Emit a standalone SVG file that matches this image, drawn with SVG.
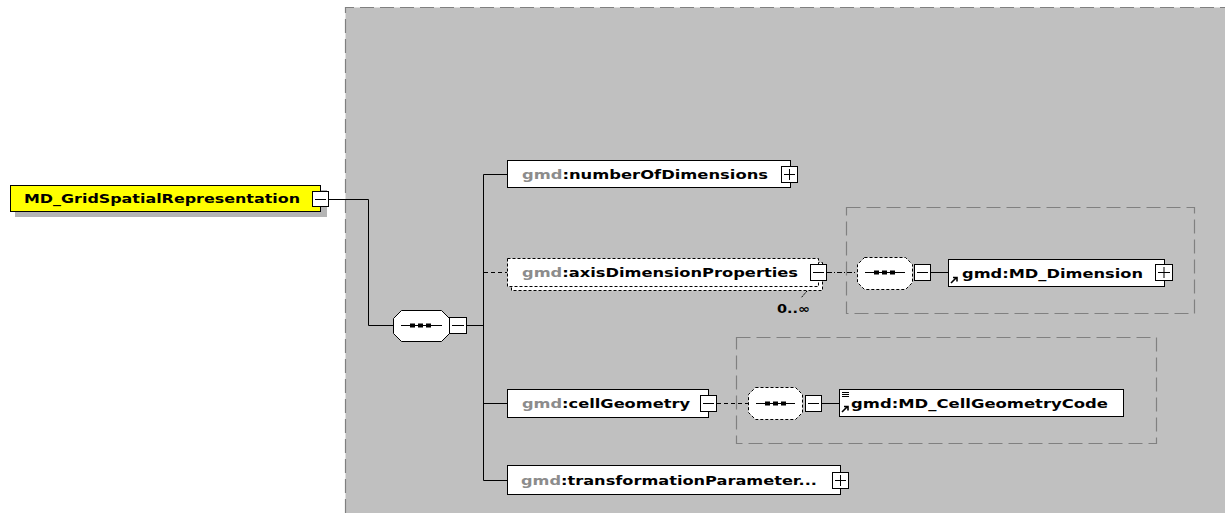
<svg xmlns="http://www.w3.org/2000/svg" width="1225" height="513" viewBox="0 0 1225 513">
<defs>
<style>
.box{fill:#fff;stroke:#000;stroke-width:1}
.dbox{fill:#fff;stroke:#000;stroke-width:1;stroke-dasharray:3,2}
.btn{fill:#fff;stroke:#000;stroke-width:1}
.sg{stroke:#000;stroke-width:1;fill:none}
.c{stroke:#000;stroke-width:1;fill:none}
.cd{stroke:#000;stroke-width:1;fill:none;stroke-dasharray:4,3}
.cdd{stroke:#000;stroke-width:1;fill:none;stroke-dasharray:5,2,1,2}
.area{fill:none;stroke:#808080;stroke-width:1.2;stroke-dasharray:14,6}
.t{font-family:"DejaVu Sans",Verdana,sans-serif;font-weight:bold;font-size:12px;fill:#000}
.p{fill:#8c8c8c}
</style>
</defs>
<rect x="0" y="0" width="1225" height="513" fill="#fff"/>
<g id="area">
<rect x="345.5" y="7.5" width="890" height="520" fill="#c0c0c0" stroke="none"/>
<path d="M345.5,513 V7.5 H1225" class="area"/>
<rect x="846.5" y="207.5" width="348" height="106" class="area"/>
<rect x="736.5" y="337.5" width="420" height="106" class="area"/>
</g>
<g id="connectors">
<path class="c" d="M328,199.5 H368.5 V325.5 H393"/>
<path class="c" d="M467,325.5 H483.5"/>
<path class="c" d="M483.5,174.5 V480.5"/>
<path class="c" d="M483.5,174.5 H507"/>
<path class="cd" d="M484,272.5 H507"/>
<path class="c" d="M483.5,403.5 H507"/>
<path class="c" d="M483.5,480.5 H507"/>
<path class="cdd" d="M827,272.5 H857"/>
<path class="c" d="M931,272.5 H948"/>
<path class="cd" d="M717,403.5 H748"/>
<path class="c" d="M822,403.5 H839"/>
<path d="M807,291 L801,298" stroke="#000" stroke-width="1" stroke-dasharray="2,1"/>
</g>
<g id="MD_GridSpatialRepresentation">
<rect x="15" y="190" width="312" height="27" fill="#b4b4b4"/>
<rect x="10.5" y="185.5" width="310" height="26" fill="#ffff00" stroke="#000"/>
<text class="t" x="24" y="203" textLength="276" lengthAdjust="spacingAndGlyphs">MD_GridSpatialRepresentation</text>
<rect x="312.5" y="191.5" width="16" height="15" class="btn"/>
<path class="sg" d="M315,199.5 H326"/>
</g>
<g id="sequence">
<path d="M401.5,310.5 H441.5 L449.5,318.5 V333.5 L441.5,341.5 H401.5 L393.5,333.5 V318.5 Z" class="box"/>
<path class="sg" d="M401,325.5 H442"/>
<rect x="410" y="323.5" width="5" height="4" fill="#000"/>
<rect x="418" y="323.5" width="5" height="4" fill="#000"/>
<rect x="426" y="323.5" width="5" height="4" fill="#000"/>
<rect x="449.5" y="317.5" width="17" height="16" class="btn"/>
<path class="sg" d="M452,325.5 H464"/>
</g>
<g id="numberOfDimensions">
<rect x="507.5" y="160.5" width="283" height="27" class="box"/>
<text class="t" x="522" y="179" textLength="246" lengthAdjust="spacingAndGlyphs"><tspan class="p">gmd</tspan>:numberOfDimensions</text>
<rect x="781.5" y="166.5" width="16" height="16" class="btn"/>
<path class="sg" d="M784,174.5 H795 M789.5,169 V180"/>
</g>
<g id="axisDimensionProperties">
<rect x="511.5" y="262.5" width="311" height="28" class="dbox"/>
<rect x="507.5" y="258.5" width="311" height="28" class="dbox"/>
<text class="t" x="522" y="277" textLength="276" lengthAdjust="spacingAndGlyphs"><tspan class="p">gmd</tspan>:axisDimensionProperties</text>
<rect x="810.5" y="264.5" width="16" height="16" class="btn"/>
<path class="sg" d="M813,272.5 H824"/>
<text class="t" x="777" y="313" font-size="11" textLength="33" lengthAdjust="spacingAndGlyphs">0..∞</text>
</g>
<g id="sequence2">
<path d="M864.5,257.5 H905.5 L912.5,264.5 V282.5 L905.5,289.5 H864.5 L857.5,282.5 V264.5 Z" class="dbox"/>
<path class="sg" d="M865,272.5 H905"/>
<rect x="874" y="270.5" width="5" height="4" fill="#000"/>
<rect x="882" y="270.5" width="5" height="4" fill="#000"/>
<rect x="890" y="270.5" width="5" height="4" fill="#000"/>
<rect x="914.5" y="264.5" width="16" height="16" class="btn"/>
<path class="sg" d="M917,272.5 H928"/>
</g>
<g id="MD_Dimension">
<rect x="948.5" y="259.5" width="216" height="27" class="box"/>
<path d="M951,283 L956,278 M953,277.5 H957 V281.5" stroke="#000" stroke-width="1.6" fill="none"/>
<text class="t" x="962" y="278" textLength="181" lengthAdjust="spacingAndGlyphs">gmd:MD_Dimension</text>
<rect x="1155.5" y="264.5" width="17" height="16" class="btn"/>
<path class="sg" d="M1158,272.5 H1170 M1164,267 V278"/>
</g>
<g id="cellGeometry">
<rect x="507.5" y="389.5" width="201" height="28" class="box"/>
<text class="t" x="522" y="408" textLength="168" lengthAdjust="spacingAndGlyphs"><tspan class="p">gmd</tspan>:cellGeometry</text>
<rect x="700.5" y="395.5" width="16" height="16" class="btn"/>
<path class="sg" d="M703,403.5 H714"/>
</g>
<g id="sequence3">
<path d="M755.5,387.5 H795.5 L802.5,394.5 V412.5 L795.5,419.5 H755.5 L748.5,412.5 V394.5 Z" class="dbox"/>
<path class="sg" d="M756,403.5 H795"/>
<rect x="765" y="401.5" width="5" height="4" fill="#000"/>
<rect x="773" y="401.5" width="5" height="4" fill="#000"/>
<rect x="781" y="401.5" width="5" height="4" fill="#000"/>
<rect x="805.5" y="395.5" width="16" height="16" class="btn"/>
<path class="sg" d="M808,403.5 H819"/>
</g>
<g id="MD_CellGeometryCode">
<rect x="839.5" y="389.5" width="284" height="27" class="box"/>
<path d="M842,392.5 H849 M842,394.5 H849 M842,396.5 H849" stroke="#000" stroke-width="1"/>
<path d="M842,412 L847,407 M844,406.5 H848 V410.5" stroke="#000" stroke-width="1.6" fill="none"/>
<text class="t" x="851" y="408" textLength="257" lengthAdjust="spacingAndGlyphs">gmd:MD_CellGeometryCode</text>
</g>
<g id="transformationParameterAvailability">
<rect x="507.5" y="465.5" width="333" height="29" class="box"/>
<text class="t" x="521" y="485" textLength="296" lengthAdjust="spacingAndGlyphs"><tspan class="p">gmd</tspan>:transformationParameter...</text>
<rect x="832.5" y="472.5" width="16" height="16" class="btn"/>
<path class="sg" d="M835,480.5 H846 M840.5,475 V486"/>
</g>
</svg>
